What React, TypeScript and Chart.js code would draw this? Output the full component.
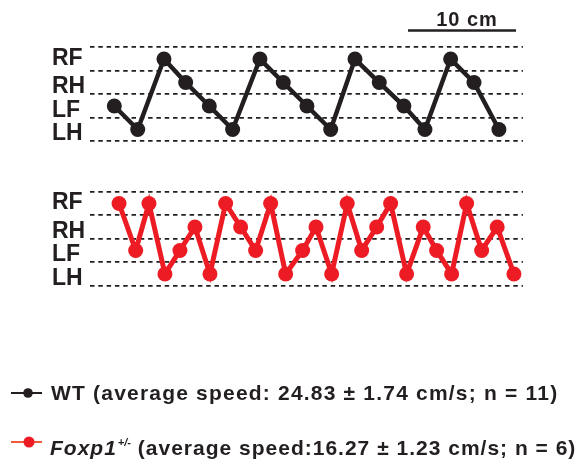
import React, { useEffect, useRef } from "react";
import { Chart, registerables } from "chart.js";

Chart.register(...registerables);

// ---- data ----
const LEVELS = ["LH", "LF", "RH", "RF"]; // bottom to top within a panel

// WT footfalls: x position (cm) and limb
const WT_X = [2.25, 4.42, 6.85, 8.86, 11.05, 13.21, 15.74, 17.9, 20.09, 22.29, 24.54, 26.79, 29.07, 31.02, 33.4, 35.56, 37.87];
const WT_STEPS = ["LF", "LH", "RF", "RH", "LF", "LH", "RF", "RH", "LF", "LH", "RF", "RH", "LF", "LH", "RF", "RH", "LH"];

// Foxp1+/- footfalls
const FOXP1_X = [2.69, 4.23, 5.46, 6.94, 8.33, 9.72, 11.11, 12.56, 13.95, 15.34, 16.73, 18.12, 19.69, 20.93, 22.38, 23.82, 25.16, 26.55, 27.84, 29.32, 30.86, 32.1, 33.49, 34.88, 36.27, 37.71, 39.26];
const FOXP1_STEPS = ["RF", "LF", "RF", "LH", "LF", "RH", "LH", "RF", "RH", "LF", "RF", "LH", "LF", "RH", "LH", "RF", "LF", "RH", "RF", "LH", "RH", "LF", "LH", "RF", "LF", "RH", "LH"];

const WT_LABEL = "WT (average speed: 24.83 ± 1.74 cm/s; n = 11)";
const FOXP1_NAME = "Foxp1";
const FOXP1_SUP = "+/-";
const FOXP1_REST = " (average speed:16.27 ± 1.23 cm/s; n = 6)";

const SCALE_START = 29.45; // cm
const SCALE_LEN = 10; // cm
const SCALE_TEXT = "10 cm";

// ---- layout constants ----
const X_MAX = 40.1;
const BOTTOM_BASE = 0;
const TOP_BASE = 6.15;
const Y_MAX = TOP_BASE + LEVELS.length;
const LABEL_SHIFT: Record<string, number> = { RF: 0.03, RH: -0.19, LF: -0.19, LH: -0.19 };

const INK = "#231f20";
const RED = "#ed1c24";
const FONT = "'Liberation Sans', Arial, Helvetica, sans-serif";

type T = { value: number; label: string; grid: boolean };
const TICKS: T[] = [];
[BOTTOM_BASE, TOP_BASE].forEach((base) => {
  for (let i = 0; i <= LEVELS.length; i++) TICKS.push({ value: base + i, label: "", grid: true });
  LEVELS.forEach((lv, i) => TICKS.push({ value: base + i + 0.5 + LABEL_SHIFT[lv], label: lv, grid: false }));
});

const toPoints = (xs: number[], steps: string[], base: number) =>
  xs.map((x, i) => ({ x, y: base + LEVELS.indexOf(steps[i]) + 0.5 }));

const scaleBarPlugin = {
  id: "scaleBar",
  afterDraw(chart: any) {
    const xs = chart.scales.x;
    const x1 = xs.getPixelForValue(SCALE_START);
    const x2 = xs.getPixelForValue(SCALE_START + SCALE_LEN);
    const ctx = chart.ctx;
    ctx.save();
    ctx.strokeStyle = INK;
    ctx.lineWidth = 2.5;
    ctx.beginPath();
    ctx.moveTo(x1, 30.5);
    ctx.lineTo(x2, 30.5);
    ctx.stroke();
    ctx.fillStyle = INK;
    ctx.font = `bold 20px ${FONT}`;
    try { (ctx as any).letterSpacing = "1px"; } catch (e) {}
    ctx.textAlign = "center";
    ctx.textBaseline = "alphabetic";
    ctx.fillText(SCALE_TEXT, (x1 + x2) / 2 + 5, 26);
    ctx.restore();
  },
};

export default function App() {
  const ref = useRef<HTMLCanvasElement>(null);
  useEffect(() => {
    if (!ref.current) return;
    const chart = new Chart(ref.current, {
      type: "line",
      data: {
        datasets: [
          {
            label: "WT",
            data: toPoints(WT_X, WT_STEPS, TOP_BASE),
            borderColor: INK,
            backgroundColor: INK,
            borderWidth: 4.5,
            pointRadius: 7.5,
            pointHoverRadius: 7.5,
            pointBorderWidth: 0,
            pointBackgroundColor: INK,
            tension: 0,
          },
          {
            label: "Foxp1+/-",
            data: toPoints(FOXP1_X, FOXP1_STEPS, BOTTOM_BASE),
            borderColor: RED,
            backgroundColor: RED,
            borderWidth: 5,
            pointRadius: 7.5,
            pointHoverRadius: 7.5,
            pointBorderWidth: 0,
            pointBackgroundColor: RED,
            tension: 0,
          },
        ],
      },
      options: {
        animation: false,
        responsive: false,
        devicePixelRatio: 1,
        layout: { padding: { left: 52, right: 58, top: 47.3, bottom: 177.3 } },
        plugins: { legend: { display: false }, tooltip: { enabled: false } },
        scales: {
          x: { type: "linear", min: 0, max: X_MAX, display: false },
          y: {
            type: "linear",
            min: 0,
            max: Y_MAX,
            afterBuildTicks: (scale: any) => {
              scale.ticks = TICKS.map((t) => ({ value: t.value }));
            },
            afterFit: (scale: any) => {
              scale.width = 38;
            },
            grid: {
              drawTicks: false,
              color: INK,
              lineWidth: (ctx: any) => (TICKS[ctx.index] && TICKS[ctx.index].grid ? 1.8 : 0),
            },
            border: { display: false, dash: [4.5, 3.8] },
            ticks: {
              autoSkip: false,
              padding: 0,
              crossAlign: "far",
              color: INK,
              font: { family: FONT, size: 23, weight: "bold" },
              callback: (_v: any, i: number) => (TICKS[i] ? TICKS[i].label : ""),
            },
          },
        },
      },
      plugins: [scaleBarPlugin],
    } as any);
    return () => chart.destroy();
  }, []);

  const textStyle: React.CSSProperties = {
    position: "absolute",
    left: 51,
    fontFamily: FONT,
    fontWeight: "bold",
    fontSize: 21,
    letterSpacing: "1px",
    color: INK,
    whiteSpace: "nowrap",
    lineHeight: "24px",
  };

  return (
    <div style={{ position: "absolute", left: 0, top: 0, width: 581, height: 463, background: "#fff" }}>
      <canvas ref={ref} width={581} height={463} style={{ display: "block", width: 581, height: 463 }} />
      <svg width={50} height={20} style={{ position: "absolute", left: 0, top: 382.7 }}>
        <line x1={11} y1={10} x2={42} y2={10} stroke={INK} strokeWidth={2} />
        <circle cx={28} cy={10} r={4.8} fill={INK} />
      </svg>
      <div style={{ ...textStyle, letterSpacing: "1.2px", top: 380.7 }}>{WT_LABEL}</div>
      <svg width={50} height={20} style={{ position: "absolute", left: 0, top: 431.7 }}>
        <line x1={11} y1={10} x2={42} y2={10} stroke="#f15a3a" strokeWidth={2} />
        <circle cx={29} cy={10} r={5.5} fill={RED} />
      </svg>
      <div style={{ ...textStyle, left: 50, top: 429.7 }}>
        <span style={{ fontStyle: "italic" }}>{FOXP1_NAME}</span>
        <sup style={{ fontStyle: "italic", fontSize: 11, letterSpacing: 0, verticalAlign: "9px", marginLeft: 1 }}>{FOXP1_SUP}</sup>
        <span>{FOXP1_REST}</span>
      </div>
    </div>
  );
}
